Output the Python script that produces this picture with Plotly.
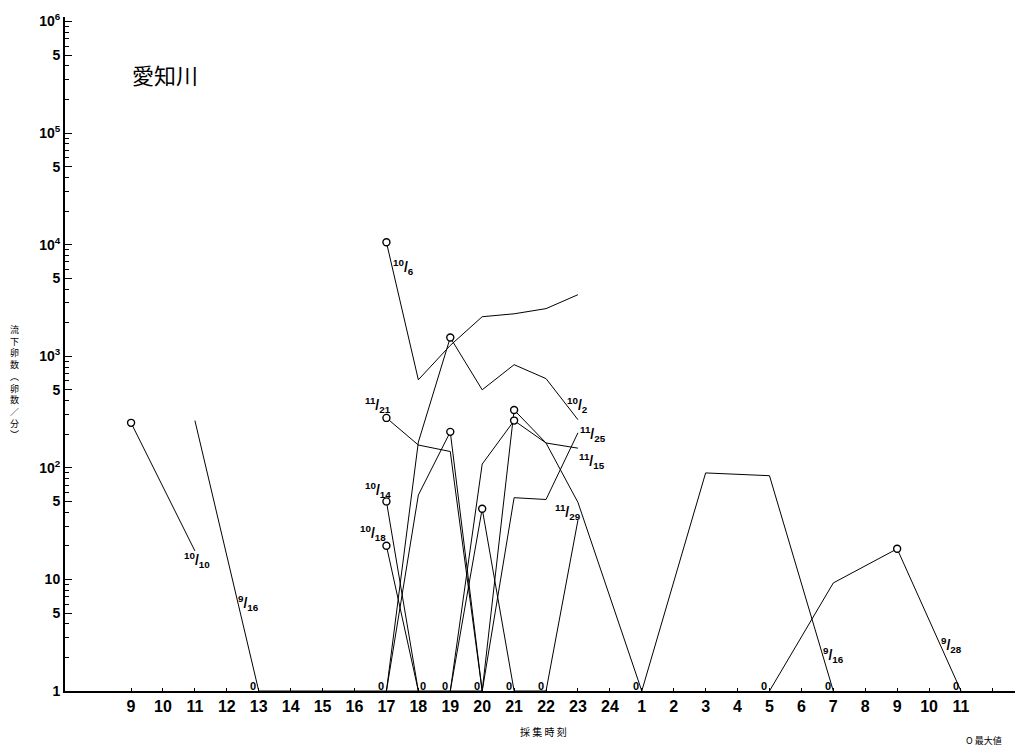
import math
import plotly.graph_objects as go

# ---- data (hours; 25 = 1 o'clock next day ... 35 = 11 o'clock next day) ----
x_1010 = [9, 11]
y_1010 = [253, 18]
x_0916 = [11, 13, 20, 21, 22, 23, 25, 27, 29, 31]
y_0916 = [265, 0, 0, 330, 167, 49, 0, 90, 85, 0]
x_1006 = [17, 18, 19, 20, 21, 22, 23]
y_1006 = [10500, 615, 1250, 2260, 2400, 2670, 3560]
x_1002 = [17, 18, 19, 20, 21, 22, 23]
y_1002 = [0, 170, 1470, 500, 840, 630, 270]
x_1121 = [17, 18, 19, 20]
y_1121 = [280, 160, 140, 0]
x_1125 = [17, 18, 19, 20, 21, 22, 23]
y_1125 = [0, 57, 210, 0, 54, 52, 206]
x_1014 = [17, 18]
y_1014 = [50, 0]
x_1018 = [17, 18]
y_1018 = [20, 0]
x_1115 = [19, 20, 21, 22, 23]
y_1115 = [0, 108, 265, 167, 150]
x_1129 = [19, 20, 21, 22, 23]
y_1129 = [0, 43, 0, 0, 34]
x_0928 = [29, 31, 33, 35]
y_0928 = [0, 9.3, 18.8, 0]

tick_pos = list(range(9, 37))
tick_text = [str(h) for h in range(9, 25)] + [str(h) for h in range(1, 12)] + [""]

y_tickvals = [1, 5, 10, 50, 100, 500, 1000, 5000, 10000, 50000, 100000, 500000, 1000000]
y_ticktext = ["1", "5", "10", "5", "10<sup>2</sup>", "5", "10<sup>3</sup>", "5",
              "10<sup>4</sup>", "5", "10<sup>5</sup>", "5", "10<sup>6</sup>"]
y_minor = [m * 10 ** d for d in range(6) for m in (2, 3, 4, 6, 7, 8, 9)]

zero_hours = [13, 17, 18, 19, 20, 21, 22, 25, 29, 31, 35]

BASE = 1  # zero values are drawn on the baseline (value 1)


def plot_y(vals):
    return [v if v > 0 else BASE for v in vals]


series = [
    (x_1010, y_1010), (x_0916, y_0916), (x_1006, y_1006), (x_1002, y_1002),
    (x_1121, y_1121), (x_1125, y_1125), (x_1014, y_1014), (x_1018, y_1018),
    (x_1115, y_1115), (x_1129, y_1129), (x_0928, y_0928),
]

fig = go.Figure()
for xs, ys in series:
    fig.add_trace(go.Scatter(x=xs, y=plot_y(ys), mode="lines",
                             line=dict(color="black", width=1), hoverinfo="skip",
                             showlegend=False))

mx, my = [], []
for xs, ys in series:
    i = ys.index(max(ys))
    mx.append(xs[i])
    my.append(ys[i])
fig.add_trace(go.Scatter(x=mx, y=my, mode="markers", showlegend=False,
                         marker=dict(symbol="circle", size=7, color="white",
                                     line=dict(color="black", width=1.4))))

lab_font = dict(family="Liberation Sans, Arial", size=14, color="black")


def frac(a, b):
    return "<b><sup>%s</sup>/<sub>%s</sub></b>" % (a, b)


labels = [
    ("10", "10", 11.07, 15.0),
    ("9", "16", 12.67, 6.15),
    ("10", "6", 17.52, 6330),
    ("11", "21", 16.74, 367),
    ("10", "14", 16.74, 63),
    ("10", "18", 16.58, 26.1),
    ("10", "2", 23.0, 367),
    ("11", "25", 23.47, 202),
    ("11", "15", 23.44, 116),
    ("11", "29", 22.69, 40.3),
    ("9", "16", 31.0, 2.1),
    ("9", "28", 34.69, 2.59),
]
for a, b, lx, ly in labels:
    fig.add_annotation(x=lx, y=math.log10(ly), yref="y", xref="x", text=frac(a, b),
                       showarrow=False, font=lab_font, xanchor="center", yanchor="middle")

for h in zero_hours:
    dx = 0.16 if h == 18 else -0.17
    fig.add_annotation(x=h + dx, y=0, xref="x", yref="y", text="<b>0</b>", showarrow=False,
                       font=dict(family="Liberation Sans, Arial", size=11, color="black"),
                       xanchor="center", yanchor="middle", yshift=5)

fig.add_annotation(x=0.105, y=0.915, xref="paper", yref="paper", text="愛知川",
                   xanchor="center", yanchor="middle",
                   showarrow=False, font=dict(family="Noto Sans CJK JP", size=22, color="black"))
fig.add_annotation(x=-0.0526, y=0.459, xref="paper", yref="paper",
                   text="<br>".join(list("流下卵数︵卵数／分︶")), showarrow=False,
                   xanchor="center", yanchor="middle",
                   font=dict(family="Noto Sans CJK JP", size=9, color="black"))
fig.add_annotation(x=0.501, y=-0.0594, xref="paper", yref="paper", text="採 集 時 刻",
                   xanchor="center", yanchor="middle",
                   showarrow=False, font=dict(family="Noto Sans CJK JP", size=10, color="black"))
fig.add_annotation(x=0.961, y=-0.0728, xref="paper", yref="paper", text="O 最大値",
                   xanchor="center", yanchor="middle",
                   showarrow=False, font=dict(family="Noto Sans CJK JP", size=9, color="black"))

fig.update_layout(
    width=1015, height=741,
    margin=dict(l=57, r=2, t=9, b=58),
    paper_bgcolor="white", plot_bgcolor="white",
    font=dict(family="Liberation Sans, Arial", color="black"),
    xaxis=dict(range=[6.93, 36.88], tickmode="array", tickvals=tick_pos,
               ticktext=["<b>%s</b>" % t for t in tick_text],
               ticks="inside", ticklen=3, tickcolor="black", showgrid=False, zeroline=False,
               showline=True, linecolor="black", linewidth=2,
               tickfont=dict(family="Liberation Sans, Arial", size=16, color="black")),
    yaxis=dict(type="log", range=[0, 6.04], tickmode="array", tickvals=y_tickvals,
               ticktext=["<b>%s</b>" % t for t in y_ticktext],
               ticks="inside", ticklen=7, tickcolor="black", showgrid=False, zeroline=False,
               showline=True, linecolor="black", linewidth=2,
               tickfont=dict(family="Liberation Sans, Arial", size=14, color="black"),
               minor=dict(tickmode="array", tickvals=y_minor, ticks="inside", ticklen=4,
                          tickcolor="black", showgrid=False)),
)

fig.write_html("out.html")
